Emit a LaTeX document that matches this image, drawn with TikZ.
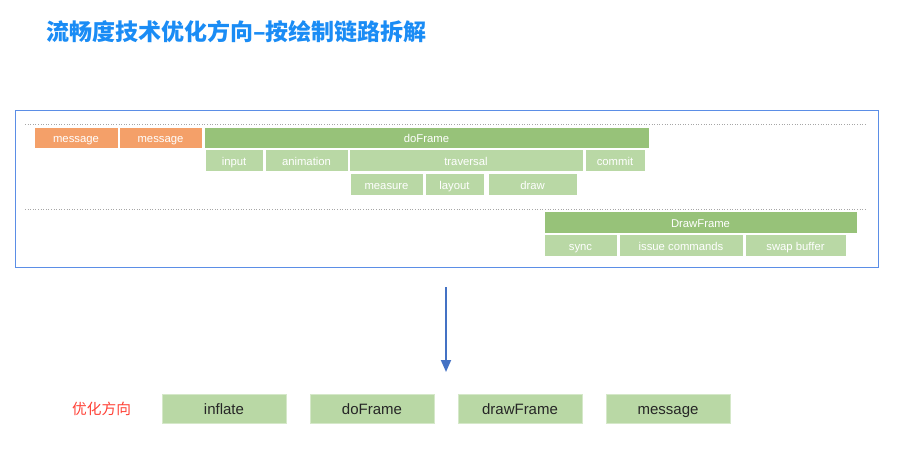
\documentclass[tikz,border=0pt]{standalone}
\usepackage{fontspec}
\setmainfont{Liberation Sans}
\newfontfamily\cjk{Noto Sans CJK SC}
\usetikzlibrary{arrows.meta}
\definecolor{titleblue}{HTML}{1A8CF5}
\definecolor{frameblue}{HTML}{5B8EE6}
\definecolor{arrowblue}{HTML}{4472C4}
\definecolor{msgorange}{HTML}{F4A069}
\definecolor{darkgreen}{HTML}{97C279}
\definecolor{lightgreen}{HTML}{B9D8A5}
\definecolor{labelred}{HTML}{FF4136}
\tikzset{
  blk/.style={anchor=north west, inner sep=0pt, outer sep=0pt, text=white,
    font=\fontsize{11.3}{13}\selectfont, draw=white, line width=0.4pt,
    text height=10.4pt, text depth=0pt},
  msgbox/.style={blk, fill=msgorange},
  mainbox/.style={blk, fill=darkgreen},
  subbox/.style={blk, fill=lightgreen},
  optbox/.style={anchor=north west, inner sep=0pt, outer sep=0pt, fill=lightgreen,
    draw=lightgreen!60!white, line width=0.5pt, text=black!85,
    font=\fontsize{15}{17}\selectfont, minimum width=124pt, minimum height=29pt,
    text height=12.6pt, text depth=1.2pt},
  sep/.style={draw=black!35, dotted, line width=0.6pt},
  arr/.style={draw=arrowblue, line width=1.8pt, -{Triangle[width=10pt,length=12pt]}},
}
\begin{document}
\begin{tikzpicture}[x=1pt,y=-1pt]
\useasboundingbox (0,0) rectangle (902,457);
% title
\node[anchor=west, inner sep=0pt, text=titleblue, font=\cjk\bfseries\fontsize{23}{26}\selectfont] (title) at (46,32) {流畅度技术优化方向–按绘制链路拆解};
% frame
\node[draw=frameblue, line width=1pt, anchor=north west, inner sep=0pt, minimum width=863pt, minimum height=156pt] (frame) at (14.5,110.5) {};
% separators
\coordinate (s1a) at (25,124.5); \coordinate (s1b) at (865,124.5);
\coordinate (s2a) at (25,209.5); \coordinate (s2b) at (865,209.5);
\draw[sep] (s1a) -- (s1b);
\draw[sep] (s2a) -- (s2b);
% row 1
\node[msgbox, minimum width=84pt, minimum height=21pt] (m1) at (34,127) {message};
\node[msgbox, minimum width=83pt, minimum height=21pt] (m2) at (119,127) {message};
\node[mainbox, minimum width=445pt, minimum height=21pt] (df) at (204,127) {doFrame};
% row 2
\node[subbox, minimum width=58pt, minimum height=22pt] (input) at (205,149.5) {input};
\node[subbox, minimum width=83pt, minimum height=22pt] (anim) at (265,149.5) {animation};
\node[subbox, minimum width=234pt, minimum height=22pt] (trav) at (349,149.5) {traversal};
\node[subbox, minimum width=60pt, minimum height=22pt] (commit) at (585,149.5) {commit};
% row 3
\node[subbox, minimum width=73pt, minimum height=22pt] (measure) at (350,173) {measure};
\node[subbox, minimum width=59pt, minimum height=22pt] (layout) at (425,173) {layout};
\node[subbox, minimum width=89pt, minimum height=22pt] (draw) at (488,173) {draw};
% DrawFrame
\node[mainbox, minimum width=313pt, minimum height=22pt] (dwf) at (544,211) {DrawFrame};
\node[subbox, minimum width=73pt, minimum height=22pt] (sync) at (544,234) {sync};
\node[subbox, minimum width=124pt, minimum height=22pt] (issue) at (619,234) {issue commands};
\node[subbox, minimum width=101pt, minimum height=22pt] (swap) at (745,234) {swap buffer};
% arrow
\coordinate (a1) at (446,287);
\coordinate (a2) at (446,372);
\draw[arr] (a1) -- (a2);
% bottom
\node[anchor=west, inner sep=0pt, text=labelred, font=\cjk\fontsize{14.7}{17}\selectfont] (lbl) at (72,408.5) {优化方向};
\node[optbox] (o1) at (162,394.5) {inflate};
\node[optbox] (o2) at (310,394.5) {doFrame};
\node[optbox] (o3) at (458,394.5) {drawFrame};
\node[optbox] (o4) at (606,394.5) {message};
\end{tikzpicture}
\end{document}
